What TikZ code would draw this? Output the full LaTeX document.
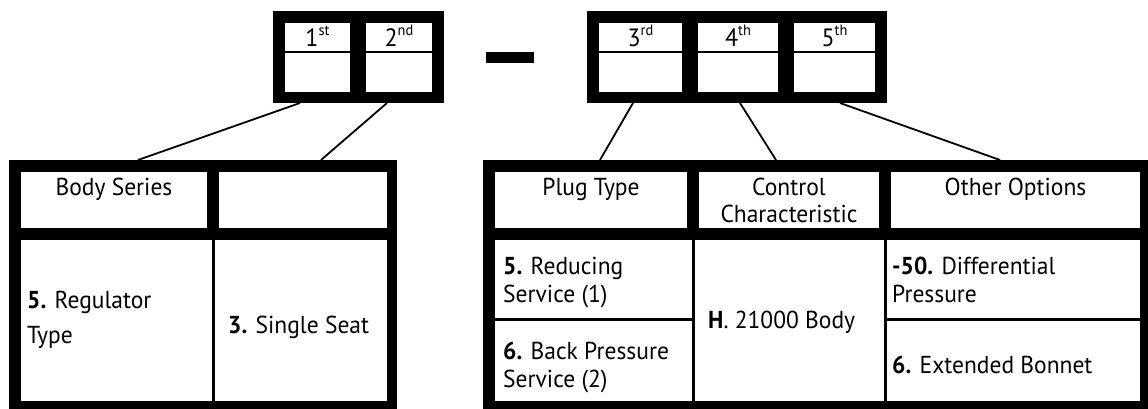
\documentclass[tikz,border=0pt]{standalone}
\usepackage{fontspec}
\setmainfont[FakeStretch=0.96]{PT Sans}
\usetikzlibrary{calc}
\newcommand\ordsup[1]{\raisebox{0.45em}{\fontsize{15}{15}\selectfont #1}}
\begin{document}
\begin{tikzpicture}[x=1pt,y=-1pt,
  blk/.style={fill=black, draw=none, inner sep=0pt, outer sep=0pt, anchor=north west},
  wcell/.style={fill=white, draw=none, inner sep=0pt, outer sep=0pt, anchor=north west},
  conn/.style={line width=1.8pt, black},
  hdr/.style={inner sep=0pt, font=\fontsize{24.5}{27}\selectfont, align=center, anchor=base},
  lbl/.style={inner sep=0pt, font=\fontsize{25}{27}\selectfont, anchor=base},
  txt/.style={inner sep=0pt, font=\fontsize{24.5}{28}\selectfont, align=left, anchor=base west},
  txtw/.style={inner sep=0pt, font=\fontsize{24.5}{35}\selectfont, align=left, anchor=base west}]
\useasboundingbox (0,0) rectangle (1148,409);
\fill[white] (0,0) rectangle (1148,409);

% top left code box
\node[blk, minimum width=171pt, minimum height=92pt] (topL) at (273,11) {};
\node[wcell, minimum width=65pt, minimum height=69pt] (c1) at (285,23) {};
\node[wcell, minimum width=66pt, minimum height=69pt] (c2) at (366,23) {};
\fill (285,51) rectangle (432,53);
\node[lbl] (l1) at (317.5,47) {1\ordsup{st}};
\node[lbl] (l2) at (399,47) {2\ordsup{nd}};

% dash
\fill (486,52) rectangle (534,63);

% top right code box
\node[blk, minimum width=300pt, minimum height=92pt] (topR) at (587,11) {};
\node[wcell, minimum width=83pt, minimum height=69pt] (c3) at (599,23) {};
\node[wcell, minimum width=80pt, minimum height=69pt] (c4) at (698,23) {};
\node[wcell, minimum width=81pt, minimum height=69pt] (c5) at (794,23) {};
\fill (599,51) rectangle (875,53);
\node[lbl] (l3) at (640.5,47) {3\ordsup{rd}};
\node[lbl] (l4) at (738,47) {4\ordsup{th}};
\node[lbl] (l5) at (834.5,47) {5\ordsup{th}};

% bottom left table
\node[blk, minimum width=388pt, minimum height=249pt] (botL) at (9,160) {};
\node[wcell, minimum width=186pt, minimum height=56pt] (h1) at (21,172) {};
\node[wcell, minimum width=168pt, minimum height=56pt] (h2) at (219,172) {};
\node[wcell, minimum width=191pt, minimum height=161pt] (b1) at (21,240) {};
\node[wcell, minimum width=172pt, minimum height=161pt] (b2) at (215,240) {};
\node[hdr] (t1) at (114,195) {Body Series};
\node[txtw] (t2) at (27,343) {\textbf{5.} Regulator\\Type};
\node[txt] (t3) at (228,333) {\textbf{3.} Single Seat};

% bottom right table
\node[blk, minimum width=665pt, minimum height=249pt] (botR) at (483,160) {};
\node[wcell, minimum width=192pt, minimum height=56pt] (H1) at (495,172) {};
\node[wcell, minimum width=180pt, minimum height=56pt] (H2) at (699,172) {};
\node[wcell, minimum width=249pt, minimum height=56pt] (H3) at (891,172) {};
\node[wcell, minimum width=197pt, minimum height=78pt] (B1a) at (495,240) {};
\node[wcell, minimum width=197pt, minimum height=80pt] (B1b) at (495,321) {};
\node[wcell, minimum width=189pt, minimum height=161pt] (B2) at (695,240) {};
\node[wcell, minimum width=253pt, minimum height=78pt] (B3a) at (887,240) {};
\node[wcell, minimum width=253pt, minimum height=80pt] (B3b) at (887,321) {};
\node[hdr] (T1) at (591,195) {Plug Type};
\node[hdr] (T2) at (789,222) {Control\\Characteristic};
\node[hdr] (T3) at (1015.5,195) {Other Options};
\node[txt] (T4) at (503,302) {\textbf{5.} Reducing\\Service (1)};
\node[txt] (T5) at (503,387) {\textbf{6.} Back Pressure\\Service (2)};
\node[txt] (T6) at (708,328) {\textbf{H}. 21000 Body};
\node[txt] (T7) at (892,302) {\textbf{-50.} Differential\\Pressure};
\node[txt] (T8) at (892,373) {\textbf{6.} Extended Bonnet};

% connector end points
\coordinate (p1) at (300,103);
\coordinate (q1) at (138,160);
\coordinate (p2) at (387,103);
\coordinate (q2) at (321,160);
\coordinate (p3) at (633,103);
\coordinate (q3) at (600,160);
\coordinate (p4) at (740,103);
\coordinate (q4) at (776,160);
\coordinate (p5) at (840,103);
\coordinate (q5) at (1000,160);
\draw[conn] (p1) -- (q1);
\draw[conn] (p2) -- (q2);
\draw[conn] (p3) -- (q3);
\draw[conn] (p4) -- (q4);
\draw[conn] (p5) -- (q5);
\end{tikzpicture}
\end{document}
